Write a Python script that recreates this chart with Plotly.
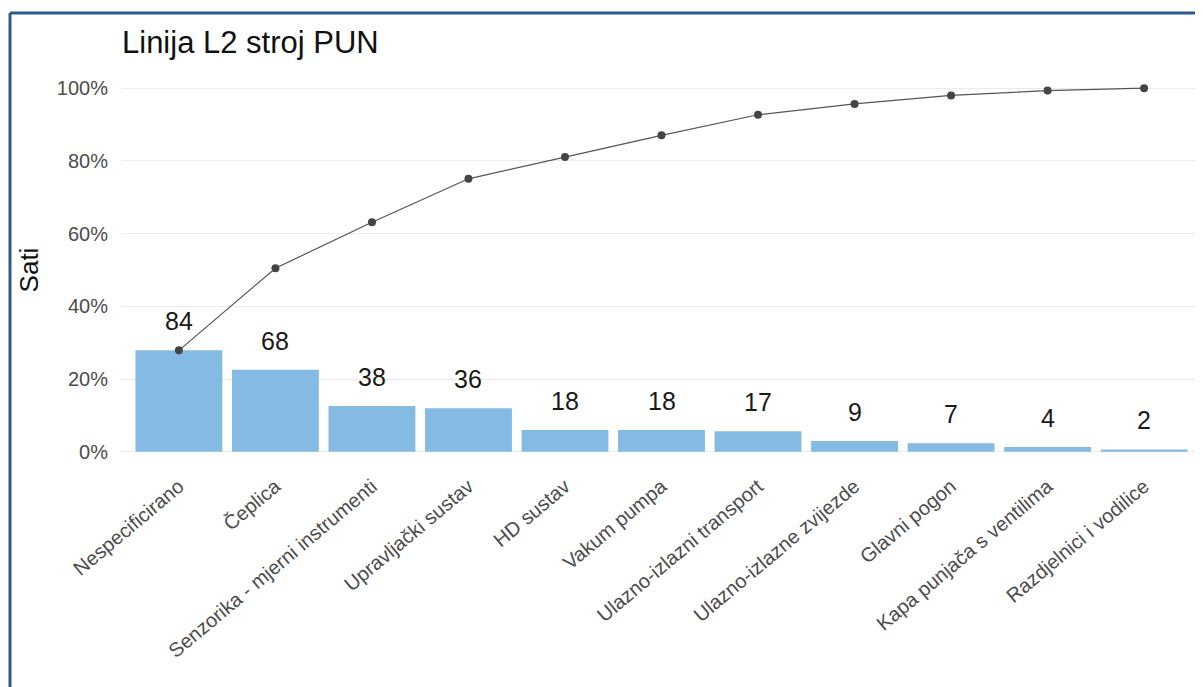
import plotly.graph_objects as go
import numpy as np

categories = ["Nespecificirano", "Čeplica", "Senzorika - mjerni instrumenti", "Upravljački sustav",
              "HD sustav", "Vakum pumpa", "Ulazno-izlazni transport", "Ulazno-izlazne zvijezde",
              "Glavni pogon", "Kapa punjača s ventilima", "Razdjelnici i vodilice"]
hours = [84, 68, 38, 36, 18, 18, 17, 9, 7, 4, 2]
y_ticks = [0, 0.2, 0.4, 0.6, 0.8, 1.0]
y_tick_labels = ["0%", "20%", "40%", "60%", "80%", "100%"]

total = sum(hours)
share = [h / total for h in hours]
cum_share = list(np.cumsum(hours) / total)

# page body has an 8px margin; compensate so the screenshot lines up
OFF = 8
W, H = 1203, 687
L, T = 121 - OFF, 70 - OFF
R = W - (1202 - OFF)
B = H - (470 - OFF)

fig = go.Figure()
fig.add_trace(go.Bar(x=categories, y=share, marker=dict(color="#85BBE3", line=dict(width=0)),
                     width=0.9, showlegend=False, hoverinfo="skip"))
fig.add_trace(go.Scatter(x=categories, y=cum_share, mode="lines+markers",
                         line=dict(color="#555555", width=1.2),
                         marker=dict(color="#444444", size=8), showlegend=False))

for c, s, h in zip(categories, share, hours):
    fig.add_annotation(x=c, y=s, text=str(h), showarrow=False, yshift=29,
                       font=dict(size=25, color="#1a1a1a", family="Liberation Sans, Arial"))


def px_x(px):
    return (px - OFF - L) / (W - L - R)


def px_y(py):
    return (H - B - (py - OFF)) / (H - T - B)


frame = dict(color="#2C5B8C", width=3)
fig.add_shape(type="line", xref="paper", yref="paper", x0=px_x(10), x1=px_x(1215), y0=px_y(13), y1=px_y(13), line=frame)
fig.add_shape(type="line", xref="paper", yref="paper", x0=px_x(10), x1=px_x(10), y0=px_y(13), y1=px_y(700), line=frame)

fig.update_layout(
    width=W, height=H,
    margin=dict(l=L, r=R, t=T, b=B),
    paper_bgcolor="white", plot_bgcolor="white",
    font=dict(family="Liberation Sans, Arial", color="#4d4d4d"),
    title=dict(text="Linija L2 stroj PUN", x=(122 - OFF) / W, xanchor="left",
               y=1 - (42 - OFF) / H, yanchor="middle", font=dict(size=31, color="#111111")),
    bargap=0.1,
)
fig.update_xaxes(range=[-0.6, 10.6], tickangle=-40, tickfont=dict(size=20, color="#4d4d4d"),
                 showgrid=False, zeroline=False, showline=False, ticks="")
fig.update_yaxes(range=[-0.05, 1.05], tickvals=y_ticks, ticktext=y_tick_labels,
                 tickfont=dict(size=20, color="#4d4d4d"), showgrid=True, gridcolor="#ebebeb",
                 gridwidth=1.2, zeroline=False, showline=False, ticks="", ticklabelstandoff=12,
                 title=dict(text="Sati", font=dict(size=26, color="#111111"), standoff=10))

fig.write_html("out.html")
